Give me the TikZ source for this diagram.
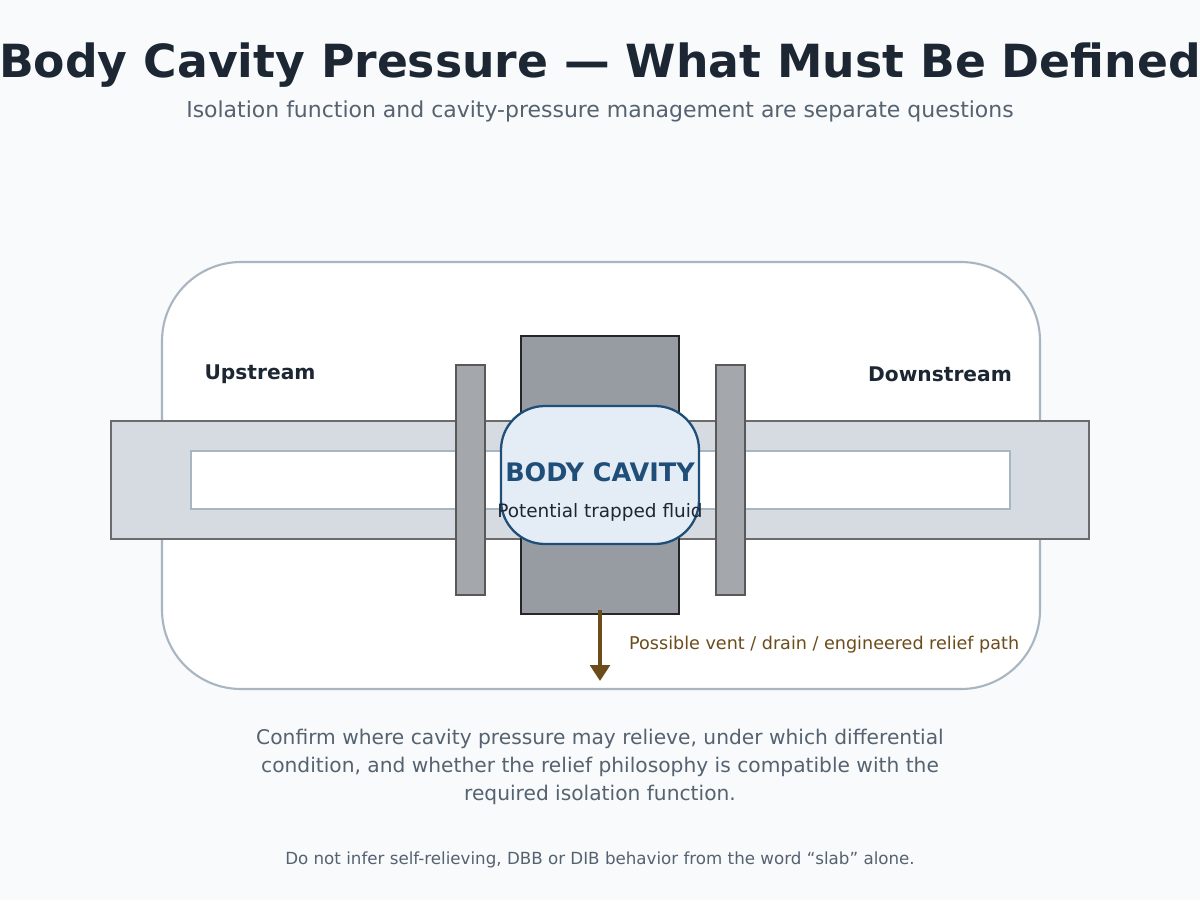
\documentclass[tikz,border=0pt]{standalone}
\usepackage{fontspec}
\setmainfont{DejaVu Sans}
\usetikzlibrary{arrows.meta}
\definecolor{bgpage}{HTML}{F8FAFC}
\definecolor{ink}{HTML}{1C2733}
\definecolor{muted}{HTML}{556270}
\definecolor{frame}{HTML}{A9B6C2}
\definecolor{pipefill}{HTML}{D6DBE1}
\definecolor{bodyfill}{HTML}{979CA3}
\definecolor{slabfill}{HTML}{A4A8AD}
\definecolor{cavfill}{HTML}{E4ECF6}
\definecolor{cavline}{HTML}{1F4E79}
\definecolor{vent}{HTML}{6B4C1A}
\tikzset{
  lbl/.style={font=\fontsize{11.5}{14}\selectfont\bfseries, text=ink},
  note/.style={font=\fontsize{11.5}{16}\selectfont, text=muted, align=center},
  slab/.style={fill=slabfill, draw=black!65, line width=0.6pt}
}
\begin{document}
\begin{tikzpicture}[x=0.02cm, y=-0.02cm]
  % page
  \fill[bgpage] (0,0) rectangle (1200,900);
  \useasboundingbox (0,0) rectangle (1200,900);

  % titles
  \node[font=\fontsize{26}{30}\selectfont\bfseries, text=ink] (title) at (600,65) {Body Cavity Pressure — What Must Be Defined};
  \node[font=\fontsize{12.5}{15}\selectfont, text=muted] (subtitle) at (600,111) {Isolation function and cavity-pressure management are separate questions};

  % panel
  \draw[frame, fill=white, line width=1.2pt, rounded corners=45] (162,262) rectangle (1040,689);

  % pipe and bore
  \draw[fill=pipefill, draw=black!58, line width=1.2pt] (111,421) rectangle (1089,539);
  \draw[fill=white, draw=frame, line width=0.8pt] (191,451) rectangle (1010,509);

  % valve body and slabs
  \draw[fill=bodyfill, draw=black!85, line width=1.2pt] (521,336) rectangle (679,614);
  \draw[slab] (456,365) rectangle (485,595);
  \draw[slab] (716,365) rectangle (745,595);

  % cavity
  \draw[fill=cavfill, draw=cavline, line width=1.3pt, rounded corners=25] (501,406) rectangle (699,544);
  \node[font=\fontsize{14.5}{17}\selectfont\bfseries, text=cavline] (cavity) at (600,472) {BODY CAVITY};
  \node[font=\fontsize{10.5}{13}\selectfont, text=ink] (trapped) at (600,512) {Potential trapped fluid};

  % sides
  \node[lbl] (up) at (260,374) {Upstream};
  \node[lbl] (down) at (940,374) {Downstream};

  % relief path
  \coordinate (ventTop) at (600,610);
  \coordinate (ventEnd) at (600,681);
  \draw[vent, line width=2.8pt, -{Triangle[length=9pt,width=11pt]}] (ventTop) -- (ventEnd);
  \node[anchor=west, font=\fontsize{10}{12}\selectfont, text=vent] (ventlbl) at (623,645) {Possible vent / drain / engineered relief path};

  % notes
  \node[note] (confirm) at (600,767) {Confirm where cavity pressure may relieve, under which differential\\condition, and whether the relief philosophy is compatible with the\\required isolation function.};
  \node[font=\fontsize{9.5}{12}\selectfont, text=muted] (foot) at (600,860) {Do not infer self-relieving, DBB or DIB behavior from the word “slab” alone.};
\end{tikzpicture}
\end{document}
